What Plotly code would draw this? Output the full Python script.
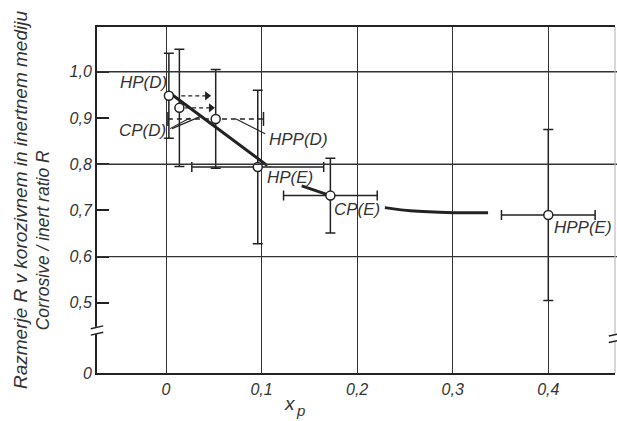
import plotly.graph_objects as go

# Measured points (x_p, R) with their uncertainties
labels = ["HP(D)", "CP(D)", "HPP(D)", "HP(E)", "CP(E)", "HPP(E)"]
xp = [0.003, 0.014, 0.052, 0.096, 0.172, 0.400]
ratio = [0.948, 0.922, 0.898, 0.794, 0.732, 0.690]
err_r = [0.092, 0.127, 0.107, 0.166, 0.081, 0.185]
err_x = [0.0, 0.0, 0.050, 0.069, 0.049, 0.049]
solid_x_err = [False, False, False, True, True, True]

# Hand-drawn trend curve (segments broken where labels sit)
curve_x = [0.004, 0.106, None, 0.142, 0.172, None, 0.229, 0.2555, 0.3005, 0.337]
curve_r = [0.954, 0.797, None, 0.753, 0.732, None, 0.706, 0.699, 0.695, 0.695]

# Axis ticks
x_ticks = [0.0, 0.1, 0.2, 0.3, 0.4]
x_ticktext = ["0", "0,1", "0,2", "0,3", "0,4"]
y_ticks = [0.348, 0.5, 0.6, 0.7, 0.8, 0.9, 1.0]
y_ticktext = ["0", "0,5", "0,6", "0,7", "0,8", "0,9", "1,0"]
y_grid = [0.6, 0.8, 1.0]

INK = "#222222"
TXT = "#333333"
FONT = "Liberation Sans"

fig = go.Figure()

# Trend curve
fig.add_trace(go.Scatter(
    x=curve_x, y=curve_r, mode="lines",
    line=dict(color=INK, width=3, shape="spline", smoothing=0.6),
    connectgaps=False, hoverinfo="skip", showlegend=False))

# Dashed horizontal uncertainty of HPP(D)
for i, solid in enumerate(solid_x_err):
    if not solid and err_x[i] > 0:
        fig.add_trace(go.Scatter(
            x=[xp[i] - err_x[i], xp[i] + err_x[i]], y=[ratio[i], ratio[i]],
            mode="lines+markers",
            line=dict(color=INK, width=1.4, dash="5px,4px"),
            marker=dict(symbol="line-ns-open", size=10,
                        line=dict(color=INK, width=1.5)),
            hoverinfo="skip", showlegend=False))

# Dashed arrows pointing right from HP(D) and CP(D)
for i, (a0, a1) in zip([0, 1], [(0.013, 0.040), (0.006, 0.033)]):
    fig.add_trace(go.Scatter(
        x=[xp[i] + a0, xp[i] + a1], y=[ratio[i], ratio[i]], mode="lines",
        line=dict(color=INK, width=1.4, dash="4px,3px"),
        hoverinfo="skip", showlegend=False))
    fig.add_trace(go.Scatter(
        x=[xp[i] + a1], y=[ratio[i]], mode="markers",
        marker=dict(symbol="triangle-right", size=8, color=INK),
        hoverinfo="skip", showlegend=False))

# Points with vertical (and solid horizontal) error bars
ex_solid = [e if s else 0.0 for e, s in zip(err_x, solid_x_err)]
fig.add_trace(go.Scatter(
    x=xp, y=ratio, mode="markers",
    marker=dict(symbol="circle", size=9, color="white",
                line=dict(color=INK, width=1.5)),
    error_y=dict(type="data", array=err_r, visible=True,
                 color=INK, thickness=1.5, width=5),
    error_x=dict(type="data", array=ex_solid, visible=True,
                 color=INK, thickness=1.5, width=5),
    hoverinfo="skip", showlegend=False))

# Point labels
label_pos = [(-0.024, 0.976), (-0.025, 0.874), (0.139, 0.853),
             (0.130, 0.771), (0.200, 0.701), (0.436, 0.662)]
for text, (lx, ly) in zip(labels, label_pos):
    fig.add_annotation(x=lx, y=ly, text=text, showarrow=False,
                       xref="x", yref="y", xanchor="center", yanchor="middle",
                       font=dict(family=FONT, size=17, color=TXT, style="italic"))

shapes = []
# Horizontal grid lines
for g in y_grid:
    shapes.append(dict(type="line", xref="paper", yref="y", x0=0, x1=1.01,
                       y0=g, y1=g, line=dict(color="#333333", width=1.4)))
# Leader lines from labels
for x0, y0, x1, y1 in [(0.0042, 0.877, 0.025, 0.900),
                       (0.0063, 0.877, 0.0356, 0.903),
                       (0.1037, 0.866, 0.0733, 0.898)]:
    shapes.append(dict(type="line", xref="x", yref="y", x0=x0, y0=y0,
                       x1=x1, y1=y1, line=dict(color=INK, width=1.1)))
# Faint right border
shapes.append(dict(type="line", xref="paper", yref="paper", x0=1, x1=1,
                   y0=0, y1=1, line=dict(color="#bdbdbd", width=1.2)))
# Axis break marks (left and right)
for px, yb in [(0.0, 0.44), (1.0, 0.424)]:
    shapes.append(dict(type="rect", xref="paper", yref="y",
                       x0=px - 0.008, x1=px + 0.008, y0=yb - 0.008, y1=yb + 0.008,
                       fillcolor="white", line=dict(width=0), layer="above"))
    for dy in (-0.007, 0.007):
        shapes.append(dict(type="line", xref="paper", yref="y",
                           x0=px - 0.012, x1=px + 0.012,
                           y0=yb + dy - 0.003, y1=yb + dy + 0.003,
                           line=dict(color=INK, width=1.5), layer="above"))

fig.update_layout(
    width=617, height=421,
    margin=dict(l=97, r=2, t=27, b=48),
    paper_bgcolor="white", plot_bgcolor="white",
    font=dict(family=FONT, color=TXT),
    shapes=shapes,
    xaxis=dict(range=[-0.0722, 0.4698], tickvals=x_ticks, ticktext=x_ticktext,
               showgrid=True, gridcolor="#333333", gridwidth=1.3,
               zeroline=False, showline=True, linecolor=INK, linewidth=2,
               mirror=True, ticks="", ticklabelstandoff=1,
               tickfont=dict(family=FONT, size=16, color=TXT, style="italic")),
    yaxis=dict(range=[0.348, 1.097], tickvals=y_ticks, ticktext=y_ticktext,
               showgrid=False, zeroline=False, showline=True, linecolor=INK,
               linewidth=2, ticks="inside", ticklen=12, tickwidth=1.5,
               tickcolor=INK,
               tickfont=dict(family=FONT, size=16, color=TXT, style="italic")),
)

# Axis titles: x with subscript p
fig.add_annotation(x=0.1298, y=-0.087, xref="x", yref="paper", showarrow=False,
                   xanchor="center", yanchor="middle", text="x",
                   font=dict(family=FONT, size=19, color=TXT, style="italic"))
fig.add_annotation(x=0.1405, y=-0.107, xref="x", yref="paper", showarrow=False,
                   xanchor="center", yanchor="middle", text="p",
                   font=dict(family=FONT, size=15, color=TXT, style="italic"))
fig.add_annotation(x=-0.1486, y=0.50, xref="paper", yref="paper", showarrow=False,
                   xanchor="center", yanchor="middle",
                   textangle=-90, text="Razmerje R v korozivnem in inertnem mediju",
                   font=dict(family=FONT, size=19, color=TXT, style="italic"))
fig.add_annotation(x=-0.104, y=0.384, xref="paper", yref="paper", showarrow=False,
                   xanchor="center", yanchor="middle",
                   textangle=-90, text="Corrosive / inert ratio R",
                   font=dict(family=FONT, size=17.5, color=TXT, style="italic"))

fig.write_html("out.html")
